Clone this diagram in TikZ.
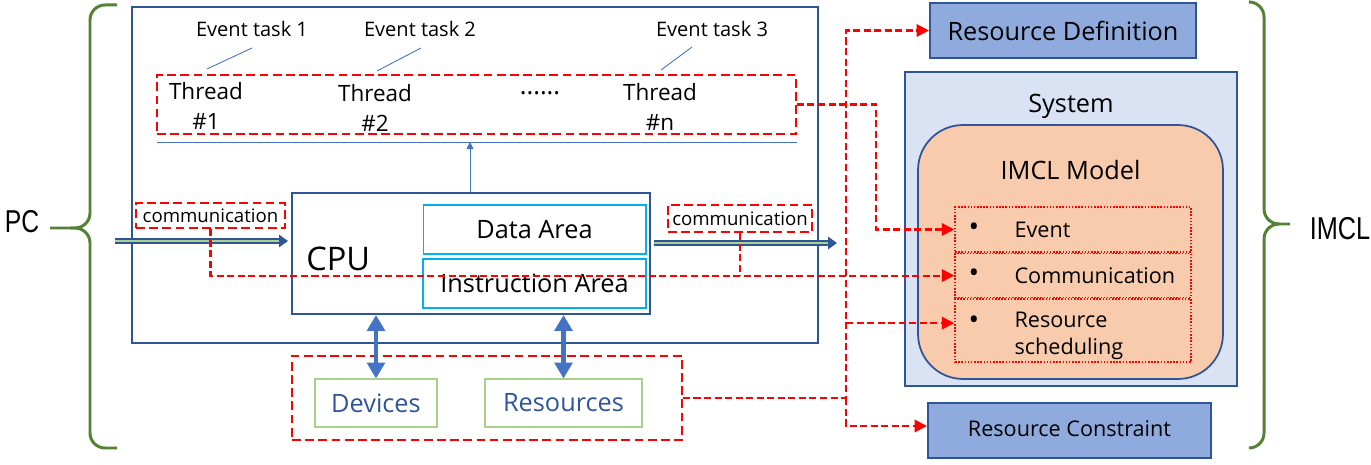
\documentclass[tikz,border=0pt]{standalone}
\usepackage{fontspec}
\setmainfont{Open Sans}
\newfontfamily\sidefont{Liberation Sans}
\usetikzlibrary{arrows.meta,positioning}
\definecolor{pcblue}{HTML}{2F5597}
\definecolor{areablue}{HTML}{00B0F0}
\definecolor{defblue}{HTML}{8FAADC}
\definecolor{sysblue}{HTML}{DAE3F3}
\definecolor{modelorange}{HTML}{F8CBAD}
\definecolor{linkblue}{HTML}{4472C4}
\definecolor{devgreen}{HTML}{A9D18E}
\definecolor{bracegreen}{HTML}{548235}
\definecolor{commred}{HTML}{FF0000}

\begin{document}
\begin{tikzpicture}[x=0.02cm,y=-0.02cm,>={Triangle[length=7pt,width=7pt]},
    every node/.append style={align=center,inner sep=0pt},
    big/.style={font=\fontsize{14.4}{17}\selectfont},
    threadfont/.style={font=\fontsize{12.8}{17}\selectfont},
    small/.style={font=\fontsize{11.4}{13}\selectfont},
    itemfont/.style={font=\fontsize{12.3}{15.3}\selectfont},
    boxline/.style={draw=pcblue,line width=1.2pt},
    area/.style={draw=areablue,big,minimum width=4.46cm,minimum height=0.98cm},
    reddash/.style={draw=commred,line width=1.1pt,dash pattern=on 5pt off 2.5pt},
    reddot/.style={draw=commred,line width=0.9pt,dash pattern=on 0.9pt off 0.9pt,minimum width=4.72cm},
    unit/.style={draw=devgreen,line width=0.6pt,big,text=pcblue,minimum height=0.96cm},
    spec/.style={boxline,fill=defblue,minimum height=1.1cm},
    redflow/.style={draw=commred,line width=1.2pt,dash pattern=on 4pt off 2pt,->},
    commflow/.style={draw=pcblue,double=devgreen,line width=0.7pt,double distance=1.5pt,-{Triangle[length=5pt,width=7pt]}},
    duplex/.style={draw=linkblue,line width=2.8pt,{Triangle[length=9pt,width=10pt]}-{Triangle[length=9pt,width=10pt]}},
    tasklink/.style={draw=linkblue,line width=0.5pt},
    brace/.style={draw=bracegreen,line width=1.7pt,rounded corners=0.3cm},
    sidelabel/.style={font=\sidefont\fontsize{18}{20}\selectfont}]
    \useasboundingbox (0,0) rectangle (1371,465);

    % PC part
    \node [boxline, minimum width=13.72cm, minimum height=6.72cm] (pc) at (475,175) {};
    \node [reddash, minimum width=12.78cm, minimum height=1.18cm] (threads) at (476.5,104.5) {};
    \node [threadfont] (th1) at (206,106) {Thread\\\#1};
    \node [threadfont] (th2) at (375,108) {Thread\\\#2};
    \node [threadfont] (thn) at (660,107) {Thread\\\#n};
    \node [big] (dots) at (540,93) {......};

    \node [small] (task1) at (252,29) {Event task 1};
    \node [small] (task2) at (420,29) {Event task 2};
    \node [small] (task3) at (712,29) {Event task 3};
    \coordinate (t1a) at (252,48); \coordinate (t1b) at (207,69);
    \coordinate (t2a) at (421,48); \coordinate (t2b) at (377,71);
    \coordinate (t3a) at (692,47); \coordinate (t3b) at (661,70);
    \draw[tasklink] (t1a) -- (t1b);
    \draw[tasklink] (t2a) -- (t2b);
    \draw[tasklink] (t3a) -- (t3b);

    \coordinate (busL) at (157,142);
    \coordinate (busR) at (797,142);
    \coordinate (busup) at (470,142);
    \draw[tasklink] (busL) -- (busR);

    \node [boxline, minimum width=7.16cm, minimum height=2.42cm] (cpu) at (471,253.5) {};
    \node [font=\fontsize{18.5}{20}\selectfont, right=0.3cm of cpu.west, yshift=-0.11cm] (cpulabel) {CPU};
    \node [area, line width=0.6pt] (data) at (534.5,229.5) {Data Area};
    \node [area, line width=1.2pt] (instr) at (534.5,283.5) {Instruction Area};
    \draw[tasklink, -{Triangle[length=4pt,width=4pt]}] (cpu.north -| busup) -- (busup);

    \node [reddash, font=\fontsize{10.6}{12}\selectfont, minimum width=2.98cm, minimum height=0.5cm] (commL) at (210.5,215.5) {communication};
    \node [reddash, font=\fontsize{10.6}{12}\selectfont, minimum width=2.88cm, minimum height=0.54cm] (commR) at (740,218.5) {communication};
    \coordinate (inL) at (115,241);
    \coordinate (outR) at (837,243);
    \draw[commflow] (inL) -- ([xshift=-0.06cm]cpu.west |- inL);
    \draw[commflow] ([xshift=0.06cm]cpu.east |- outR) -- (outR);

    \node [reddash, minimum width=7.8cm, minimum height=1.68cm] (hw) at (487,398) {};
    \node [unit, minimum width=2.44cm] (devices) at (376,403) {Devices};
    \node [unit, minimum width=3.14cm] (resources) at (563.5,403) {Resources};
    \draw[duplex] (cpu.south -| devices) -- (devices.north);
    \draw[duplex] (cpu.south -| resources) -- (resources.north);

    % IMCL part
    \node [spec, big, minimum width=5.32cm] (resdef) at (1063,30.5) {Resource Definition};
    \node [boxline, fill=sysblue, minimum width=6.64cm, minimum height=6.28cm] (system) at (1071,229) {};
    \node [big, below=0.45cm of system.north] (syslabel) {System};
    \node [boxline, line width=1pt, fill=modelorange, rounded corners=0.9cm, minimum width=6.1cm, minimum height=5.08cm] (model) at (1070.5,252) {};
    \node [big, below=0.72cm of model.north] (modellabel) {IMCL Model};
    \node [reddot, minimum height=0.9cm] (evitem) at (1073,229.5) {};
    \node [reddot, minimum height=0.88cm, below=0pt of evitem] (comitem) {};
    \node [reddot, minimum height=1.26cm, below=0pt of comitem] (rsitem) {};
    \node [font=\fontsize{16}{16}\selectfont, right=0.28cm of evitem.west] (evdot) {•};
    \node [font=\fontsize{16}{16}\selectfont, right=0.28cm of comitem.west] (comdot) {•};
    \node [font=\fontsize{16}{16}\selectfont, right=0.28cm of rsitem.west, yshift=0.15cm] (rsdot) {•};
    \node [itemfont, right=1.2cm of evitem.west] (evtext) {Event};
    \node [itemfont, right=1.2cm of comitem.west] (comtext) {Communication};
    \node [itemfont, align=left, right=1.2cm of rsitem.west, yshift=-0.1cm] (rstext) {Resource\\scheduling};
    \node [spec, itemfont, minimum width=5.66cm] (rescons) at (1069.5,430.5) {\raisebox{2.5pt}{Resource Constraint}};

    % links
    \coordinate (evx) at (876,104);
    \coordinate (resx) at (846,398);
    \draw[redflow] (threads.east) -| (evx |- evitem.west) -- (evitem.west);
    \draw[redflow] (commL.south) |- (comitem.west);
    \draw[redflow, -] (commR.south) -- (commR.south |- comitem.west);
    \draw[redflow] (hw.east) -| (resx |- resdef.west) -- (resdef.west);
    \draw[redflow] (resx) |- ([yshift=0.09cm]rescons.west);
    \draw[redflow] (resx |- rsdot) -- (rsitem.west |- rsdot);

    % braces
    \draw[brace] (117,5) -- (90,5) -- (90,228) -- (50,228);
    \draw[brace] (117,448) -- (90,448) -- (90,228) -- (70,228);
    \draw[brace] (1250,2) -- (1264,2) -- (1264,224) -- (1290,224);
    \draw[brace] (1250,448) -- (1264,448) -- (1264,224) -- (1275,224);
    \node [sidelabel] (pclabel) at (22,222) {\scalebox{0.78}[1]{PC}};
    \node [sidelabel] (imcllabel) at (1340,229) {\scalebox{0.8}[1]{IMCL}};
\end{tikzpicture}
\end{document}
